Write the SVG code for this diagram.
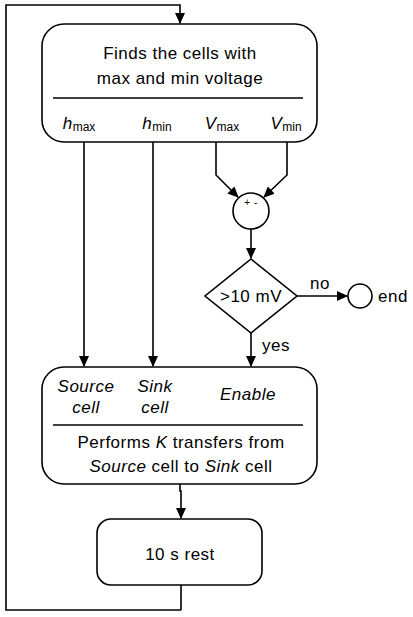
<svg xmlns="http://www.w3.org/2000/svg" width="413" height="617" viewBox="0 0 413 617">
<style>
.s{fill:none;stroke:#000;stroke-width:1.6}
.b{fill:#fff;stroke:#000;stroke-width:1.6}
text{font-family:"Liberation Sans",Arial,sans-serif;font-size:17px;letter-spacing:0.5px;fill:#000;text-anchor:middle}
.i{font-style:italic}
.sub{font-size:12px;font-style:normal;letter-spacing:0}
</style>
<defs>
<marker id="a" markerWidth="11" markerHeight="10" refX="10" refY="5" orient="auto" markerUnits="userSpaceOnUse">
<path d="M0,0 L11,5 L0,10 Z" fill="#000"/>
</marker>
</defs>
<g id="connectors" class="s">
<path d="M181,610 H6 V5 H180 V23" marker-end="url(#a)"/>
<path d="M84,142 V366" marker-end="url(#a)"/>
<path d="M153,142 V366" marker-end="url(#a)"/>
<path d="M216,142 V175 L238,197" marker-end="url(#a)"/>
<path d="M287,142 V175 L264,197" marker-end="url(#a)"/>
<path d="M251,229 V258" marker-end="url(#a)"/>
<path d="M251,333 V366" marker-end="url(#a)"/>
<path d="M297,296 H347" marker-end="url(#a)"/>
<path d="M180,484 V491 H181 V518" marker-end="url(#a)"/>
<path d="M181,585 V610"/>
</g>
<g id="find">
<rect class="b" x="42" y="24" width="275" height="118" rx="22"/>
<line class="s" x1="53" y1="98" x2="303" y2="98"/>
<text x="180" y="59">Finds the cells with</text>
<text x="180" y="84">max and min voltage</text>
<text x="79" y="129"><tspan class="i">h</tspan><tspan class="sub" dy="2">max</tspan></text>
<text x="157" y="129"><tspan class="i">h</tspan><tspan class="sub" dy="2">min</tspan></text>
<text x="222" y="129"><tspan class="i">V</tspan><tspan class="sub" dy="2">max</tspan></text>
<text x="286" y="129"><tspan class="i">V</tspan><tspan class="sub" dy="2">min</tspan></text>
</g>
<g id="sum">
<circle class="b" cx="251" cy="211" r="18"/>
<text x="251" y="206" style="font-size:10px">+ -</text>
</g>
<g id="decision">
<path class="b" d="M251,259 L297,296 L251,333 L205,296 Z"/>
<text x="251" y="302">&gt;10 mV</text>
<text x="320" y="289">no</text>
<text x="262" y="351" style="text-anchor:start">yes</text>
</g>
<g id="end">
<circle class="b" cx="360" cy="296" r="12"/>
<text x="378" y="302" style="text-anchor:start">end</text>
</g>
<g id="transfer">
<rect class="b" x="42" y="367" width="275" height="117" rx="22"/>
<line class="s" x1="53" y1="425" x2="303" y2="425"/>
<text class="i" x="86" y="392">Source</text>
<text class="i" x="86" y="413">cell</text>
<text class="i" x="155" y="392">Sink</text>
<text class="i" x="155" y="413">cell</text>
<text class="i" x="248" y="400">Enable</text>
<text x="181" y="448">Performs <tspan class="i">K</tspan> transfers from</text>
<text x="181" y="472"><tspan class="i">Source</tspan> cell to <tspan class="i">Sink</tspan> cell</text>
</g>
<g id="rest">
<rect class="b" x="97" y="519" width="165" height="66" rx="14"/>
<text x="180" y="560">10 s rest</text>
</g>
</svg>
